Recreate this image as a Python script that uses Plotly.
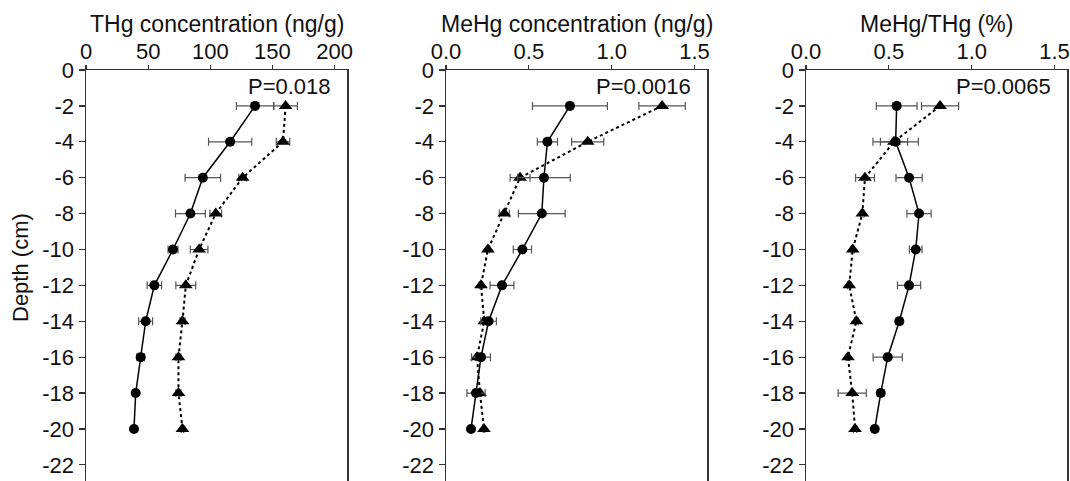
import plotly.graph_objects as go

depth = [-2, -4, -6, -8, -10, -12, -14, -16, -18, -20]

# Panel 1: THg concentration (ng/g)
thg_circ = [136, 116, 94, 84, 70, 55, 48, 44, 40, 38.6]
thg_circ_err = [15, 17.4, 14.3, 12, 4, 5.8, 5.6, 3, 2, 2]
thg_tri = [160.6, 158.5, 126, 104.4, 91, 80.3, 77.6, 74.4, 74.4, 77.6]
thg_tri_err = [9.5, 5.4, 3, 4.7, 7.1, 8, 2, 2, 2, 1]

# Panel 2: MeHg concentration (ng/g)
mehg_circ = [0.748, 0.612, 0.591, 0.578, 0.461, 0.338, 0.257, 0.211, 0.181, 0.151]
mehg_circ_err = [0.226, 0.061, 0.159, 0.141, 0.055, 0.072, 0.047, 0.057, 0.055, 0.01]
mehg_tri = [1.304, 0.855, 0.447, 0.352, 0.253, 0.211, 0.231, 0.187, 0.205, 0.229]
mehg_tri_err = [0.14, 0.097, 0.06, 0.03, 0.01, 0.01, 0.01, 0.01, 0.01, 0.005]

# Panel 3: MeHg/THg (%)
ratio_circ = [0.547, 0.541, 0.622, 0.682, 0.662, 0.622, 0.563, 0.493, 0.451, 0.415]
ratio_circ_err = [0.123, 0.137, 0.079, 0.073, 0.038, 0.07, 0.02, 0.088, 0.02, 0.015]
ratio_tri = [0.809, 0.531, 0.356, 0.34, 0.282, 0.261, 0.304, 0.253, 0.279, 0.296]
ratio_tri_err = [0.112, 0.082, 0.057, 0.01, 0.01, 0.01, 0.01, 0.01, 0.085, 0.01]

titles = ["THg concentration (ng/g)", "MeHg concentration (ng/g)", "MeHg/THg (%)"]
p_labels = ["P=0.018", "P=0.0016", "P=0.0065"]
x_ticks = [[0, 50, 100, 150, 200], [0.0, 0.5, 1.0, 1.5], [0.0, 0.5, 1.0, 1.5]]
x_ticktext = [["0", "50", "100", "150", "200"], ["0.0", "0.5", "1.0", "1.5"], ["0.0", "0.5", "1.0", "1.5"]]
x_ranges = [[0, 210], [0, 1.575], [0, 1.575]]
y_ticks = list(range(0, -23, -2))
y_title = "Depth (cm)"

panels = [
    (thg_circ, thg_circ_err, thg_tri, thg_tri_err),
    (mehg_circ, mehg_circ_err, mehg_tri, mehg_tri_err),
    (ratio_circ, ratio_circ_err, ratio_tri, ratio_tri_err),
]

W, H = 1070, 481
px_left = [86, 446, 806]
px_width = 261
top_px = 70
FONT = "Liberation Sans, Arial, sans-serif"
TXT = "#111111"

fig = go.Figure()
layout = {}
annotations = []

for i, (c, ce, t, te) in enumerate(panels):
    n = i + 1
    xa = "x" if n == 1 else f"x{n}"
    ya = "y" if n == 1 else f"y{n}"
    err_style = dict(thickness=1.2, width=4, color="#555555")
    fig.add_trace(go.Scatter(
        x=t, y=depth, xaxis=xa, yaxis=ya, mode="lines+markers",
        line=dict(color="black", width=2, dash="dot"),
        marker=dict(symbol="triangle-up", size=12, color="black"),
        error_x=dict(type="data", array=te, visible=True, **err_style),
        showlegend=False,
    ))
    fig.add_trace(go.Scatter(
        x=c, y=depth, xaxis=xa, yaxis=ya, mode="lines+markers",
        line=dict(color="black", width=1.5),
        marker=dict(symbol="circle", size=10, color="black"),
        error_x=dict(type="data", array=ce, visible=True, **err_style),
        showlegend=False,
    ))
    d0 = px_left[i] / W
    d1 = (px_left[i] + px_width) / W
    xkey = "xaxis" if n == 1 else f"xaxis{n}"
    ykey = "yaxis" if n == 1 else f"yaxis{n}"
    layout[xkey] = dict(
        domain=[d0, d1], range=x_ranges[i], side="top", anchor=ya, automargin=False,
        tickvals=x_ticks[i], ticktext=x_ticktext[i], ticks="outside", ticklen=4,
        ticklabelstandoff=-3,
        tickwidth=1.2, tickcolor="#333", showline=True, linecolor="#333", linewidth=1.5,
        mirror=False, showgrid=False, zeroline=False,
        tickfont=dict(family=FONT, size=22, color=TXT),
    )
    layout[ykey] = dict(
        domain=[0, (H - top_px) / H], range=[-22.9, 0], anchor=xa, automargin=False,
        tickvals=y_ticks, ticktext=[str(v) for v in y_ticks], ticks="outside", ticklen=6,
        tickwidth=1.2, tickcolor="#333", showline=True, linecolor="#333", linewidth=1.5,
        mirror=True, showgrid=False, zeroline=False,
        tickfont=dict(family=FONT, size=22, color=TXT),
    )
    annotations.append(dict(
        text=titles[i], x=(d0 + d1) / 2, y=1 - 24 / H, xref="paper", yref="paper",
        xanchor="center", yanchor="middle", showarrow=False,
        font=dict(family=FONT, size=23, color=TXT),
    ))
    annotations.append(dict(
        text=p_labels[i], x=x_ranges[i][1] * 0.945, y=-0.9, xref=xa, yref=ya,
        xanchor="right", yanchor="middle", showarrow=False,
        font=dict(family=FONT, size=22, color=TXT),
    ))

annotations.append(dict(
    text=y_title, x=20 / W, y=1 - 268 / H, xref="paper", yref="paper",
    xanchor="center", yanchor="middle", showarrow=False, textangle=-90,
    font=dict(family=FONT, size=22, color=TXT),
))

fig.update_layout(
    width=W, height=H, margin=dict(l=0, r=0, t=0, b=0),
    paper_bgcolor="white", plot_bgcolor="white",
    annotations=annotations, **layout,
)

fig.write_html(
    "out.html",
    config={"displayModeBar": False, "staticPlot": True},
    post_script="document.body.style.margin='0px';document.body.style.overflow='hidden';",
)
